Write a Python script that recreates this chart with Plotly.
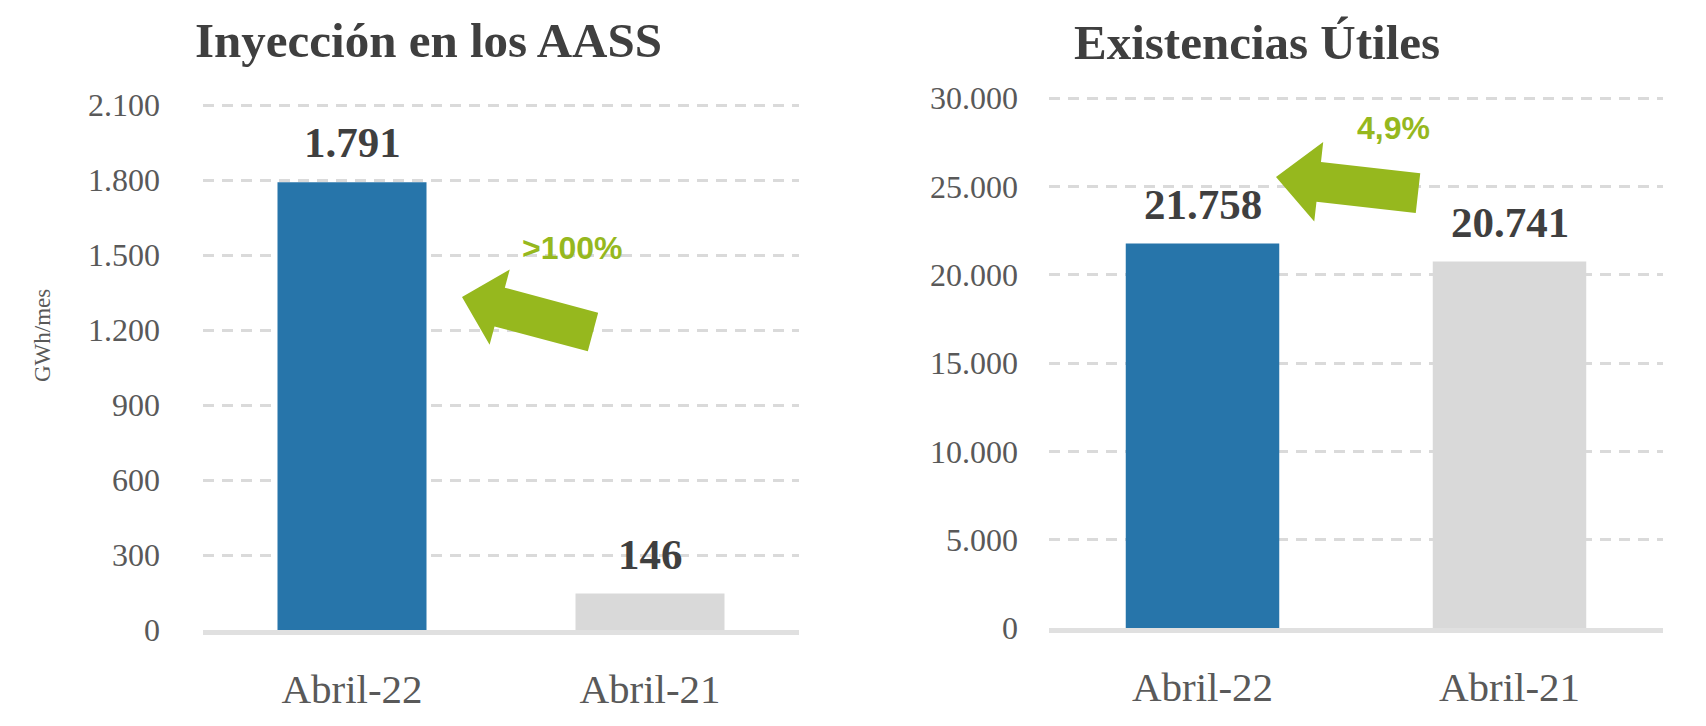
import plotly.graph_objects as go

W, H = 1706, 726

categories = ["Abril-22", "Abril-21"]
inyeccion = [1791, 146]
existencias = [21758, 20741]
bar_colors = ["#2775AA", "#D9D9D9"]

left_tickvals = [0, 300, 600, 900, 1200, 1500, 1800, 2100]
left_ticktext = ["0", "300", "600", "900", "1.200", "1.500", "1.800", "2.100"]
right_tickvals = [0, 5000, 10000, 15000, 20000, 25000, 30000]
right_ticktext = ["0", "5.000", "10.000", "15.000", "20.000", "25.000", "30.000"]

title_left = "Inyección en los AASS"
title_right = "Existencias Útiles"
yaxis_title = "GWh/mes"
pct_left = ">100%"
pct_right = "4,9%"

GREEN = "#96B81E"
DARK = "#3F3F3F"
GREY_TXT = "#595959"
SERIF = "Liberation Serif"


def fmt(v):
    return f"{v:,}".replace(",", ".")


def px(x):
    return x / W


def py(y):
    return 1 - y / H


fig = go.Figure()
fig.add_trace(go.Bar(x=categories, y=inyeccion, marker=dict(color=bar_colors, line=dict(width=0)),
                     xaxis="x", yaxis="y", showlegend=False, hoverinfo="skip"))
fig.add_trace(go.Bar(x=categories, y=existencias, marker=dict(color=bar_colors, line=dict(width=0)),
                     xaxis="x2", yaxis="y2", showlegend=False, hoverinfo="skip"))

axis_common = dict(showgrid=False, zeroline=False, showline=True, linecolor="#E0E0E0", linewidth=5,
                   tickfont=dict(family=SERIF, size=41, color=GREY_TXT), ticks="",
                   ticklabelstandoff=19, automargin=False, fixedrange=True)
yaxis_common = dict(showgrid=True, gridcolor="#DADADA", gridwidth=2.5, griddash="11px,8px",
                    zeroline=False, showline=False, ticks="",
                    tickfont=dict(family=SERIF, size=32, color=GREY_TXT), automargin=False,
                    fixedrange=True)

fig.update_layout(
    width=W, height=H,
    margin=dict(l=0, r=0, t=0, b=0),
    paper_bgcolor="white", plot_bgcolor="white",
    bargap=0.5,
    xaxis=dict(domain=[px(203), px(799)], anchor="y", **axis_common),
    yaxis=dict(domain=[py(630), py(103.5)], anchor="x", range=[0, 2106],
               tickvals=left_tickvals, ticktext=left_ticktext, ticklabelstandoff=42, **yaxis_common),
    xaxis2=dict(domain=[px(1049), px(1663)], anchor="y2", **axis_common),
    yaxis2=dict(domain=[py(628), py(96.6)], anchor="x2", range=[0, 30080],
                tickvals=right_tickvals, ticktext=right_ticktext, ticklabelstandoff=30, **yaxis_common),
)

annotations = []
# titles
annotations.append(dict(text=title_left, x=px(428), y=py(40), xref="paper", yref="paper",
                        showarrow=False, xanchor="center", yanchor="middle",
                        font=dict(family=SERIF, size=49, color=DARK, weight="bold")))
annotations.append(dict(text=title_right, x=px(1257), y=py(42), xref="paper", yref="paper",
                        showarrow=False, xanchor="center", yanchor="middle",
                        font=dict(family=SERIF, size=49, color=DARK, weight="bold")))
# y axis title
annotations.append(dict(text=yaxis_title, x=px(42), y=py(336), xref="paper", yref="paper",
                        showarrow=False, textangle=-90, xanchor="center", yanchor="middle",
                        font=dict(family=SERIF, size=23, color=GREY_TXT)))
# value labels
for c, v in zip(categories, inyeccion):
    annotations.append(dict(text=fmt(v), x=c, y=v, xref="x", yref="y", showarrow=False,
                            yanchor="bottom", yshift=14,
                            font=dict(family=SERIF, size=43, color=DARK, weight="bold")))
for c, v in zip(categories, existencias):
    annotations.append(dict(text=fmt(v), x=c, y=v, xref="x2", yref="y2", showarrow=False,
                            yanchor="bottom", yshift=14,
                            font=dict(family=SERIF, size=43, color=DARK, weight="bold")))
# percentage labels
annotations.append(dict(text=pct_left, x=px(572), y=py(248), xref="paper", yref="paper",
                        showarrow=False, xanchor="center", yanchor="middle",
                        font=dict(family="Liberation Sans", size=32, color=GREEN, weight="bold")))
annotations.append(dict(text=pct_right, x=px(1393), y=py(128), xref="paper", yref="paper",
                        showarrow=False, xanchor="center", yanchor="middle",
                        font=dict(family="Liberation Sans", size=32, color=GREEN, weight="bold")))
fig.update_layout(annotations=annotations)


def arrow_path(tip, tail, head_len, head_half, shaft_half):
    tx, ty = tip
    dx, dy = tail[0] - tx, tail[1] - ty
    L = (dx * dx + dy * dy) ** 0.5
    ux, uy = dx / L, dy / L
    nx, ny = -uy, ux

    def p(a, b):
        return (tx + ux * a + nx * b, ty + uy * a + ny * b)

    pts = [p(0, 0), p(head_len, -head_half), p(head_len, -shaft_half), p(L, -shaft_half),
           p(L, shaft_half), p(head_len, shaft_half), p(head_len, head_half)]
    d = "M " + " L ".join(f"{px(x):.5f},{py(y):.5f}" for x, y in pts) + " Z"
    return d


shapes = [
    dict(type="path", xref="paper", yref="paper",
         path=arrow_path((462, 297), (593, 332), 39, 39, 20),
         fillcolor=GREEN, line=dict(width=0)),
    dict(type="path", xref="paper", yref="paper",
         path=arrow_path((1276, 177), (1418, 193), 43, 40, 20),
         fillcolor=GREEN, line=dict(width=0)),
]
fig.update_layout(shapes=shapes)

fig.write_html("out.html")
